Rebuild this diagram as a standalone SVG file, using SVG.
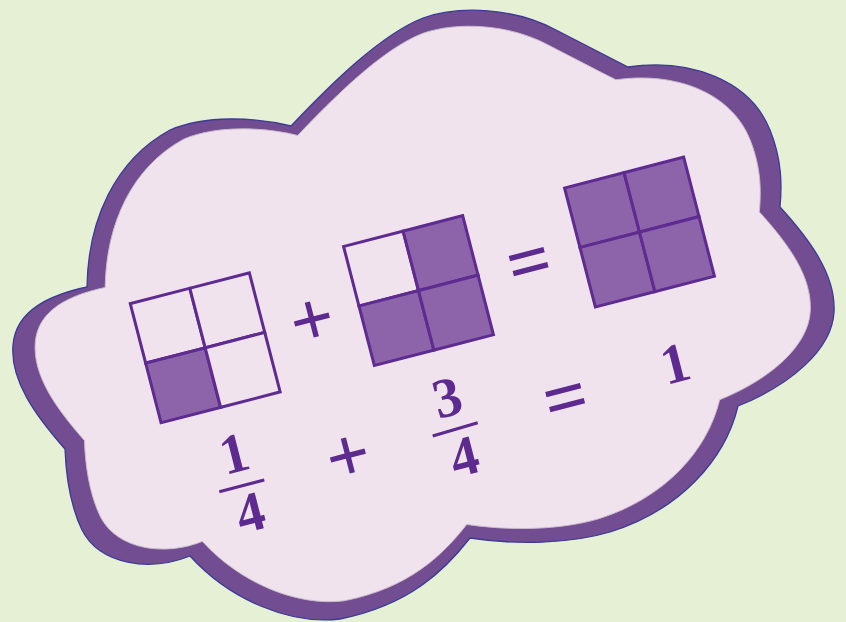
<svg xmlns="http://www.w3.org/2000/svg" width="846" height="622" viewBox="0 0 846 622">
<defs>
<style>
.bg{fill:#e5f0d5}
.cloud-out{fill:#734d92;stroke:#3b3a96;stroke-width:1.3}
.cloud-in{fill:#f1e3ee;stroke:#c9bcc9;stroke-width:1}
.cell{stroke:#5e2b91;stroke-width:3;stroke-linejoin:miter}
.w{fill:#f1e3ee}
.s{fill:#8d64a9}
.t{font-family:"Liberation Serif","Times New Roman",serif;font-weight:bold;fill:#5d2a8f;text-anchor:middle}
.op{font-size:77px}
.dg{font-size:56px}
.bar{stroke:#5d2a8f;stroke-width:3.2;stroke-linecap:butt}
</style>
<path id="cloudShape" d="M291,126 C330,85 380,35 423,18 C460,5 515,8 556,30 C585,45 610,58 628,67 C690,58 750,80 770,130 C782,160 782,185 780,207 C810,240 836,275 834,312 C832,350 790,385 738,406 C725,460 680,510 610,532 C570,544 515,545 470,538 C445,570 410,605 340,619 C290,625 230,600 190,556 C150,572 100,565 82,530 C70,505 66,475 65,449 C35,415 10,380 13,345 C16,310 50,295 87,287 C88,220 115,160 170,130 C205,115 255,117 291,126 Z"/>
</defs>
<rect class="bg" x="0" y="0" width="846" height="622"/>
<g id="cloud">
<use href="#cloudShape" class="cloud-out"/>
<use href="#cloudShape" class="cloud-in" transform="translate(411 295) scale(0.944) translate(-411 -295)"/>
</g>
<g id="square-quarter" transform="translate(205.2 347.8) rotate(-14.5)">
<rect class="cell w" x="-61.5" y="-61.5" width="61.5" height="61.5"/>
<rect class="cell w" x="0" y="-61.5" width="61.5" height="61.5"/>
<rect class="cell s" x="-61.5" y="0" width="61.5" height="61.5"/>
<rect class="cell w" x="0" y="0" width="61.5" height="61.5"/>
</g>
<g id="square-three-quarters" transform="translate(418.5 290.6) rotate(-14.5)">
<rect class="cell w" x="-61.5" y="-61.5" width="61.5" height="61.5"/>
<rect class="cell s" x="0" y="-61.5" width="61.5" height="61.5"/>
<rect class="cell s" x="-61.5" y="0" width="61.5" height="61.5"/>
<rect class="cell s" x="0" y="0" width="61.5" height="61.5"/>
</g>
<g id="square-whole" transform="translate(639.5 232.1) rotate(-14.5)">
<rect class="cell s" x="-61.5" y="-61.5" width="61.5" height="61.5"/>
<rect class="cell s" x="0" y="-61.5" width="61.5" height="61.5"/>
<rect class="cell s" x="-61.5" y="0" width="61.5" height="61.5"/>
<rect class="cell s" x="0" y="0" width="61.5" height="61.5"/>
</g>
<g id="top-operators">
<text class="t op" x="313" y="345" transform="rotate(-14.5 313 324)">+</text>
<text class="t op" x="530" y="287" transform="rotate(-14.5 530 266)">=</text>
</g>
<g id="fraction-one-quarter">
<text class="t dg" x="234" y="472" transform="rotate(-14.5 234 453)">1</text>
<line class="bar" x1="219.3" y1="491.7" x2="264.3" y2="480"/>
<text class="t dg" x="250" y="531" transform="rotate(-14.5 250 512)">4</text>
</g>
<g id="plus-bottom">
<text class="t op" x="349" y="481" transform="rotate(-14.5 349 460)">+</text>
</g>
<g id="fraction-three-quarters">
<text class="t dg" x="447" y="416" transform="rotate(-14.5 447 397)">3</text>
<line class="bar" x1="432.7" y1="436" x2="477.7" y2="422.7"/>
<text class="t dg" x="464" y="475" transform="rotate(-14.5 464 456)">4</text>
</g>
<g id="equals-bottom">
<text class="t op" x="566.5" y="423" transform="rotate(-14.5 566.5 402)">=</text>
</g>
<g id="whole-one">
<text class="t dg" x="675" y="382" transform="rotate(-14.5 675 363)">1</text>
</g>
</svg>
